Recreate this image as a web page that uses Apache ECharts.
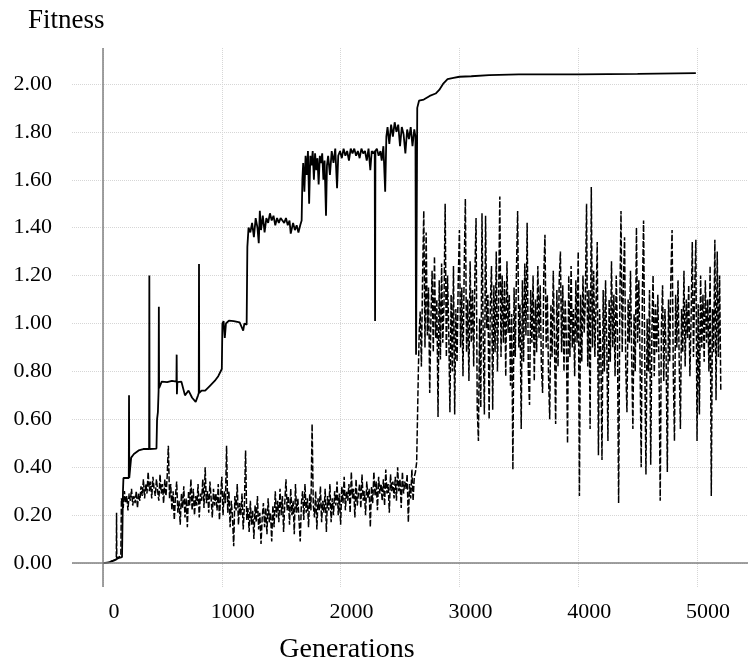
<!DOCTYPE html>
<html>
<head>
<meta charset="utf-8">
<title>Fitness vs generations</title>
<script src="https://cdn.jsdelivr.net/npm/echarts@6/dist/echarts.min.js"></script>
<style>
  html, body { margin: 0; padding: 0; background: #fff; }
  #main { width: 748px; height: 662px; }
</style>
</head>
<body>
<div id="main"></div>
<script>
// best fitness as [generation, fitness]
var bestStage1 = [
  [0,0],[50,0.003],[90,0.01],[128,0.02],[160,0.025],[168,0.30],[172,0.355],[217,0.355],[219,0.70],[221,0.355],
  [234,0.36],[237,0.44],[260,0.455],[300,0.47],[339,0.476],[388,0.476],[390,1.20],[392,0.476],[450,0.478],
  [455,0.60],[462,0.63],[468,0.72],[470,1.07],[472,0.73],[494,0.757],[540,0.755],[580,0.76],[618,0.757],
  [620,0.87],[622,0.705],[626,0.755],[660,0.757],[675,0.75],[690,0.70],[720,0.72],[750,0.69],[780,0.673],
  [800,0.70],[806,0.71],[808,1.248],[810,0.71],[830,0.72],[860,0.72],[900,0.74],[940,0.76],[970,0.78],
  [1000,0.81],[1005,1.00],[1015,1.01],[1025,0.94],[1035,1.0],[1060,1.012],[1100,1.01],[1150,1.005],
  [1180,0.97],[1190,1.0],[1209,0.995]
];
var bestStage2 = [
  [1215,1.32],[1225,1.40],[1240,1.38],[1255,1.42],[1270,1.36],[1285,1.44],[1300,1.40],[1311,1.335],[1320,1.47],
  [1330,1.39],[1345,1.45],[1360,1.38],[1375,1.44],[1390,1.42],[1405,1.46],[1420,1.43],[1435,1.45],[1450,1.41],
  [1465,1.44],[1480,1.42],[1495,1.44],[1510,1.43],[1525,1.42],[1540,1.44],[1555,1.41],[1570,1.43],[1580,1.375],
  [1600,1.42],[1615,1.39],[1630,1.41],[1645,1.38],[1660,1.41],[1672,1.43]
];
var bestStage3 = [
  [1678,1.60],[1685,1.67],[1695,1.55],[1705,1.70],[1715,1.62],[1725,1.72],[1735,1.50],[1745,1.70],[1755,1.66],
  [1765,1.72],[1775,1.60],[1785,1.71],[1795,1.64],[1805,1.69],[1815,1.58],[1825,1.70],[1835,1.67],[1845,1.71],
  [1855,1.60],[1865,1.68],[1877,1.45],[1885,1.66],[1895,1.70],[1910,1.62],[1925,1.72],[1940,1.67],[1955,1.73],
  [1970,1.565],[1980,1.70],[1995,1.72],[2010,1.69],[2025,1.73],[2040,1.70],[2055,1.72],[2070,1.68],[2085,1.73],
  [2100,1.71],[2115,1.73],[2130,1.70],[2145,1.72],[2160,1.69],[2175,1.73],[2190,1.71],[2205,1.72],[2220,1.68],
  [2235,1.73],[2250,1.64],[2262,1.72],[2275,1.71],[2287,1.72],[2290,1.01],[2293,1.72],[2305,1.73],[2320,1.70],
  [2335,1.72],[2346,1.68],[2360,1.74],[2375,1.55],[2385,1.78],[2395,1.82],[2410,1.75],[2425,1.83],[2440,1.78],
  [2455,1.84],[2470,1.80],[2485,1.83],[2500,1.74],[2515,1.82],[2530,1.79],[2545,1.71],[2560,1.81],[2575,1.77],
  [2590,1.82],[2605,1.74],[2620,1.81],[2630,1.78]
];
var bestStage4 = [
  [2635,0.87],[2645,1.90],[2660,1.93],[2700,1.935],[2750,1.95],[2800,1.96],[2830,1.975],[2862,2.0],[2900,2.02],
  [2950,2.025],[3000,2.03],[3100,2.032],[3250,2.037],[3500,2.04],[4000,2.04],[4500,2.042],[4990,2.045]
];

// average fitness: early part as [generation, fitness]
var avgStart = [
  [0,0],[40,0.002],[80,0.01],[112,0.015],[114,0.21],[116,0.02],[128,0.025],[150,0.03],[155,0.27]
];
// average fitness before the jump, one reading every 10 generations from 160
var avgLowStart = 160, avgLowStep = 10;
var avgLow = [
  0.27,0.23,0.30,0.25,0.28,0.22,0.29,0.26,0.31,0.24,
  0.28,0.25,0.30,0.23,0.29,0.26,0.32,0.28,0.35,0.27,
  0.33,0.29,0.38,0.30,0.34,0.27,0.36,0.31,0.28,0.35,
  0.30,0.26,0.37,0.29,0.33,0.25,0.35,0.28,0.36,0.49,
  0.27,0.33,0.22,0.30,0.18,0.28,0.34,0.21,0.26,0.16,
  0.29,0.23,0.32,0.19,0.27,0.15,0.30,0.24,0.35,0.22,
  0.31,0.20,0.28,0.24,0.33,0.19,0.29,0.26,0.35,0.23,
  0.40,0.25,0.30,0.21,0.34,0.27,0.19,0.31,0.24,0.29,
  0.22,0.33,0.18,0.28,0.36,0.20,0.30,0.25,0.49,0.21,
  0.30,0.15,0.26,0.19,0.07,0.28,0.22,0.33,0.16,0.25,
  0.20,0.29,0.14,0.24,0.47,0.18,0.23,0.13,0.26,0.16,
  0.22,0.10,0.24,0.17,0.28,0.14,0.21,0.08,0.19,0.25,
  0.15,0.23,0.12,0.27,0.17,0.21,0.09,0.24,0.15,0.30,
  0.19,0.26,0.17,0.31,0.20,0.28,0.13,0.25,0.35,0.22,
  0.28,0.16,0.31,0.20,0.26,0.12,0.33,0.21,0.27,0.18,
  0.09,0.25,0.30,0.18,0.33,0.21,0.27,0.15,0.29,0.22,
  0.58,0.24,0.19,0.30,0.14,0.27,0.22,0.32,0.17,0.26,
  0.21,0.31,0.13,0.28,0.22,0.33,0.17,0.27,0.20,0.30,
  0.24,0.34,0.20,0.29,0.16,0.32,0.25,0.36,0.22,0.30,
  0.26,0.33,0.21,0.38,0.27,0.31,0.19,0.35,0.24,0.29,
  0.33,0.23,0.37,0.26,0.30,0.20,0.34,0.27,0.31,0.15,
  0.32,0.25,0.38,0.28,0.34,0.22,0.36,0.29,0.33,0.26,
  0.35,0.24,0.39,0.29,0.33,0.21,0.37,0.30,0.34,0.27,
  0.36,0.26,0.40,0.30,0.35,0.23,0.38,0.29,0.34,0.31,
  0.37,0.17,0.33,0.27,0.39,0.26,0.36,0.38
];
var avgRise = [[2640,0.42],[2648,0.63],[2655,0.82],[2662,0.97]];
// average fitness after the jump, one reading every 10 generations from 2670
var avgHighStart = 2670, avgHighStep = 10;
var avgHigh = [
  1.05,0.82,1.20,1.47,0.90,1.38,0.95,1.15,0.71,1.02,
  1.22,0.88,1.28,0.94,1.10,0.61,1.18,0.85,1.25,0.92,
  1.08,1.50,0.86,1.20,0.97,0.63,1.12,0.80,1.24,0.62,
  1.06,0.84,1.18,1.39,0.90,1.15,0.78,1.22,1.52,0.88,
  1.10,0.76,1.26,0.92,1.14,0.82,1.20,1.44,0.64,0.51,
  1.02,0.65,1.46,0.94,0.62,1.45,0.98,1.12,0.60,1.08,
  1.24,0.64,1.16,0.88,1.30,0.80,1.10,1.53,0.86,1.20,
  0.92,1.18,0.78,1.26,0.96,1.12,0.74,1.04,0.39,1.15,
  0.86,1.22,1.47,0.90,1.08,0.56,1.18,0.84,1.25,0.95,
  1.42,0.80,0.66,1.14,0.92,1.20,0.76,1.10,0.88,1.24,
  0.94,1.16,0.82,0.71,1.20,1.37,0.90,1.12,0.78,0.60,
  1.08,0.86,1.22,0.92,0.58,1.14,0.82,1.18,1.30,0.88,
  1.16,0.80,1.10,0.94,0.50,1.20,0.86,1.24,0.90,1.06,
  0.78,1.18,0.92,1.30,0.28,1.12,0.84,1.20,0.96,1.10,
  1.50,0.82,1.14,0.56,1.57,0.90,1.22,0.86,1.08,1.34,
  0.45,1.06,0.88,0.43,1.14,0.80,1.18,0.92,0.51,1.10,
  0.84,1.26,0.90,1.12,0.78,1.20,0.96,0.25,1.08,1.47,
  0.88,1.16,1.36,0.82,0.63,1.10,0.92,1.22,0.86,0.56,
  1.04,0.80,1.40,0.92,1.18,0.86,0.40,1.12,1.43,0.84,
  0.37,1.02,0.80,1.14,0.41,0.96,1.20,0.78,1.08,0.88,
  1.12,0.82,0.26,0.98,1.16,0.76,1.06,0.86,0.38,1.10,
  0.84,1.20,1.39,0.80,0.51,1.12,0.90,1.18,0.84,0.56,
  1.06,0.88,1.22,0.82,1.10,0.94,1.16,0.78,1.02,1.34,
  0.86,1.14,1.35,0.51,1.08,0.62,1.20,0.90,1.12,0.84,
  1.18,0.92,1.10,0.80,1.24,0.28,1.06,0.88,1.35,0.68,
  1.30,0.86,1.20,0.72
];

function stepped(start, step, vals) {
  return vals.map(function (v, i) { return [start + i * step, v]; });
}

var bestData = bestStage1.concat(bestStage2, bestStage3, bestStage4);
var avgData = avgStart.concat(
  stepped(avgLowStart, avgLowStep, avgLow),
  avgRise,
  stepped(avgHighStart, avgHighStep, avgHigh)
);

var serif = '"Liberation Serif", "Times New Roman", serif';
var gridLine = { type: 'dotted', color: '#d6d6d6', width: 1 };
var chart = echarts.init(document.getElementById('main'));

var option = {
  animation: false,
  backgroundColor: '#fff',
  grid: { left: 72, right: 0, top: 48, bottom: 75 },
  xAxis: {
    type: 'value',
    min: -261,
    max: 5429,
    splitNumber: 5,
    axisLine: { show: false },
    axisTick: { show: false },
    splitLine: { show: true, showMinLine: false, showMaxLine: false, lineStyle: gridLine },
    axisLabel: {
      showMinLabel: false, showMaxLabel: false,
      margin: 14, padding: [0, 0, 0, 22],
      color: '#000', fontFamily: serif, fontSize: 22,
      formatter: function (v) { return String(v); }
    }
  },
  yAxis: {
    type: 'value',
    min: -0.1,
    max: 2.15,
    splitNumber: 11,
    axisLine: { show: false },
    axisTick: { show: false },
    splitLine: { show: true, showMinLine: false, showMaxLine: false, lineStyle: gridLine },
    axisLabel: {
      showMinLabel: false, showMaxLabel: false,
      margin: 20,
      color: '#000', fontFamily: serif, fontSize: 22,
      formatter: function (v) { return v.toFixed(2); }
    }
  },
  graphic: [
    { type: 'text', x: 28, y: 21,
      style: { text: 'Fitness', font: '27px ' + serif, fill: '#000', textAlign: 'left', textVerticalAlign: 'middle' } },
    { type: 'text', x: 347, y: 650,
      style: { text: 'Generations', font: '28px ' + serif, fill: '#000', textAlign: 'center', textVerticalAlign: 'middle' } }
  ],
  series: [
    {
      name: 'average',
      type: 'line',
      data: avgData,
      symbol: 'none',
      lineStyle: { color: '#000', width: 1.5, type: [6, 2] },
      markLine: {
        silent: true,
        symbol: ['none', 'none'],
        label: { show: false },
        lineStyle: { color: '#808080', width: 1.5, type: 'solid' },
        data: [{ xAxis: 0 }, { yAxis: 0 }]
      }
    },
    {
      name: 'best',
      type: 'line',
      data: bestData,
      symbol: 'none',
      lineStyle: { color: '#000', width: 1.8 }
    }
  ]
};
chart.setOption(option);
</script>
</body>
</html>
